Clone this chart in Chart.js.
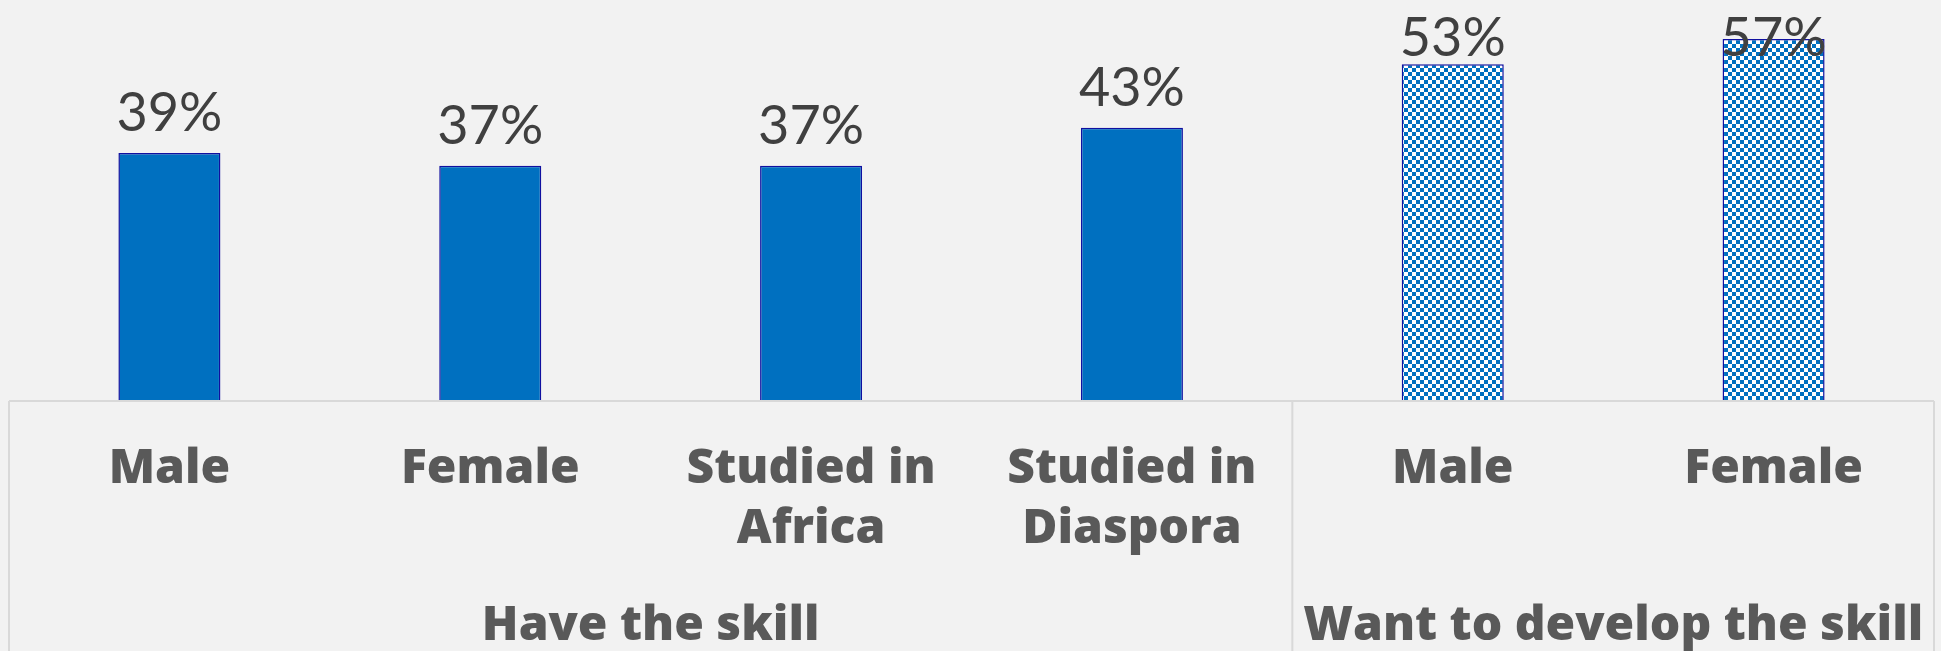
<!DOCTYPE html>
<html>
<head>
<meta charset="utf-8">
<script src="https://cdn.jsdelivr.net/npm/chart.js@4.4.1/dist/chart.umd.min.js"></script>
<style>
  html, body { margin: 0; padding: 0; background: #F2F2F2; }
  #wrap { width: 1941px; height: 651px; position: relative; }
</style>
</head>
<body>
<div id="wrap"><canvas id="chart"></canvas></div>
<script>
// data
const categories = [['Male'], ['Female'], ['Studied in', 'Africa'], ['Studied in', 'Diaspora'], ['Male'], ['Female']];
const values = [39, 37, 37, 43, 53, 57];
const groups = ['Have the skill', 'Want to develop the skill'];
const groupSizes = [4, 2];
const hatched = [false, false, false, false, true, true];

const BLUE = '#0070C0';
const LINE = '#D9D9D9';
const BOLD_FONT = '"Open Sans", Lato, sans-serif';
const VALUE_FONT = 'Lato, "Open Sans", sans-serif';

// small checkerboard for the "want to develop" bars
function checker() {
    const s = 4;
    const c = document.createElement('canvas');
    c.width = s * 2; c.height = s * 2;
    const g = c.getContext('2d');
    g.fillStyle = '#FFFFFF';
    g.fillRect(0, 0, s * 2, s * 2);
    g.fillStyle = BLUE;
    g.fillRect(0, 0, s, s);
    g.fillRect(s, s, s, s);
    return g.createPattern(c, 'repeat');
}
const pat = checker();

// table lines under the bars + group labels
const tablePlugin = {
    id: 'tableLines',
    beforeDatasetsDraw(chart) {
        const { ctx, chartArea, scales: { x } } = chart;
        const h = chart.height;
        const y0 = chartArea.bottom + 1;
        ctx.save();
        ctx.strokeStyle = LINE;
        ctx.lineWidth = 2;
        ctx.beginPath();
        ctx.moveTo(chartArea.left, y0);
        ctx.lineTo(chartArea.right, y0);
        const splits = [chartArea.left, chartArea.right];
        let idx = 0;
        groupSizes.slice(0, -1).forEach(n => {
            idx += n;
            splits.push((x.getPixelForValue(idx - 1) + x.getPixelForValue(idx)) / 2);
        });
        splits.forEach(px => {
            ctx.moveTo(px, y0);
            ctx.lineTo(px, h);
        });
        ctx.stroke();
        ctx.restore();
    },
    afterDraw(chart) {
        const { ctx, scales: { x } } = chart;
        ctx.save();
        ctx.fillStyle = '#595959';
        ctx.font = '800 48px ' + BOLD_FONT;
        ctx.textAlign = 'center';
        ctx.textBaseline = 'alphabetic';
        let start = 0;
        groups.forEach((g, i) => {
            const end = start + groupSizes[i] - 1;
            const cx = (x.getPixelForValue(start) + x.getPixelForValue(end)) / 2;
            ctx.fillText(g, cx, 640);
            start = end + 1;
        });
        ctx.restore();
    }
};

// percentage labels above bars
const valuePlugin = {
    id: 'valueLabels',
    afterDatasetsDraw(chart) {
        const { ctx } = chart;
        const meta = chart.getDatasetMeta(0);
        ctx.save();
        ctx.fillStyle = '#404040';
        ctx.font = '54px ' + VALUE_FONT;
        ctx.textAlign = 'center';
        ctx.textBaseline = 'alphabetic';
        meta.data.forEach((bar, i) => {
            const y = Math.max(bar.y - 22, 56);
            ctx.fillText(values[i] + '%', bar.x, y);
        });
        ctx.restore();
    }
};

new Chart(document.getElementById('chart'), {
    type: 'bar',
    data: {
        labels: categories,
        datasets: [{
            data: values,
            backgroundColor: hatched.map(h => h ? pat : BLUE),
            borderColor: '#1010A0',
            borderWidth: 1.5,
            barPercentage: 0.318,
            categoryPercentage: 1
        }]
    },
    options: {
        responsive: true,
        maintainAspectRatio: false,
        animation: false,
        layout: { padding: { top: 20, left: 9, right: 7, bottom: 0 } },
        plugins: {
            legend: { display: false },
            tooltip: { enabled: false }
        },
        scales: {
            y: { display: false, min: 0, max: 60 },
            x: {
                grid: { display: false, drawTicks: false },
                border: { display: false },
                ticks: {
                    color: '#595959',
                    font: { family: BOLD_FONT, size: 48, weight: '800', lineHeight: 1.24 },
                    padding: 40,
                    maxRotation: 0,
                    autoSkip: false
                },
                afterFit(scale) { scale.height = 251; }
            }
        }
    },
    plugins: [tablePlugin, valuePlugin]
});
</script>
</body>
</html>
